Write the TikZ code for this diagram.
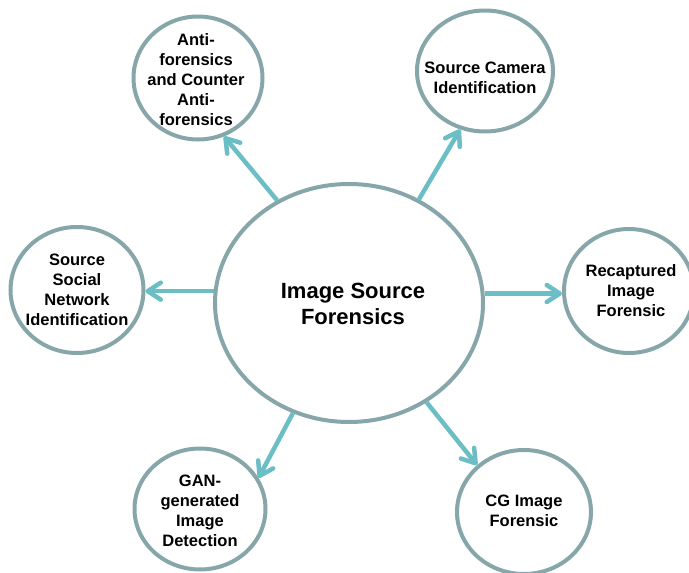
\documentclass[tikz,border=0pt]{standalone}
\usepackage{fontspec}
\setmainfont{Liberation Sans}
\usetikzlibrary{shapes.geometric,arrows.meta}
\definecolor{ringcol}{RGB}{134,166,170}
\definecolor{arrowcol}{RGB}{108,190,198}
\tikzset{
  ring/.style={ellipse,draw=ringcol,line width=4pt,fill=white,inner sep=0pt},
  lbl/.style={align=center,font=\fontsize{16.5}{20}\selectfont\bfseries,text=black},
  biglbl/.style={align=center,font=\fontsize{22}{26.5}\selectfont\bfseries,text=black},
  link/.style={draw=arrowcol,line width=4.5pt,-{Straight Barb[length=13pt,width=17pt,line cap=round,line join=round]}}
}
\begin{document}
\begin{tikzpicture}[x=1pt,y=-1pt]
\useasboundingbox (0,0) rectangle (689,573);
% rings
\node[ring,minimum width=268pt,minimum height=238pt] (c) at (349,303) {};
\node[ring,minimum width=129pt,minimum height=123pt] (anti) at (198,78) {};
\node[ring,minimum width=136pt,minimum height=121pt] (cam) at (485,71) {};
\node[ring,minimum width=133pt,minimum height=126pt] (ssn) at (77,290) {};
\node[ring,minimum width=130pt,minimum height=124pt] (rec) at (629,291) {};
\node[ring,minimum width=131pt,minimum height=121pt] (gan) at (200,509) {};
\node[ring,minimum width=134pt,minimum height=124pt] (cg) at (524,512) {};
% labels
\node[biglbl] (tc) at (353,304) {Image Source\\Forensics};
\node[lbl] (tanti) at (196,80) {Anti-\\forensics\\and Counter\\Anti-\\forensics};
\node[lbl] (tcam) at (485,78) {Source Camera\\Identification};
\node[lbl] (tssn) at (77,290) {Source\\Social\\Network\\Identification};
\node[lbl] (trec) at (631,291) {Recaptured\\Image\\Forensic};
\node[lbl] (tgan) at (200,511) {GAN-\\generated\\Image\\Detection};
\node[lbl] (tcg) at (524,511) {CG Image\\Forensic};
% connectors
\draw[link] (c.125.7) -- (anti.-66.3);
\draw[link] (c.56.9) -- (cam.247);
\draw[link] (c.175.4) -- (c.175.4 -| ssn.east);
\draw[link] (c.4.6) -- (c.4.6 -| rec.west);
\draw[link] (c.243.4) -- (gan.28);
\draw[link] (c.-52.2) -- (cg.135);
\end{tikzpicture}
\end{document}
